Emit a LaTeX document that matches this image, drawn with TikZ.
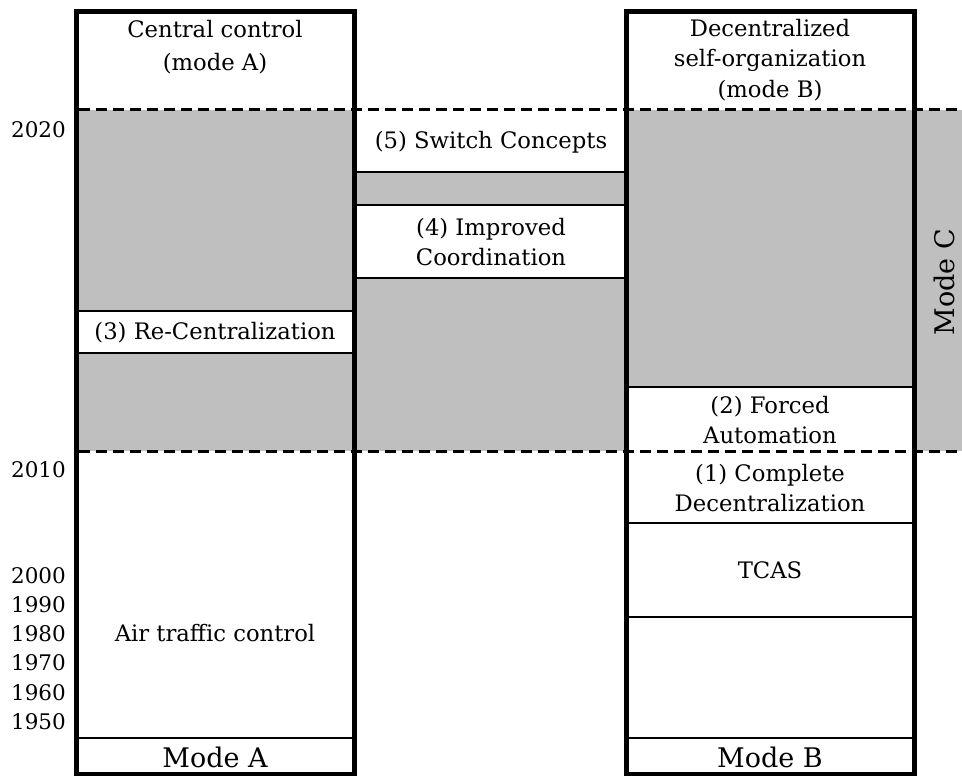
\documentclass[tikz,border=0pt]{standalone}
\usepackage{fontspec}
\setmainfont{DejaVu Serif}
\begin{document}
\begin{tikzpicture}[x=1pt,y=-1pt,
  lbl/.style={align=center,inner sep=0pt,font=\fontsize{22.7}{30.5}\selectfont},
  big/.style={inner sep=0pt,font=\fontsize{27}{30}\selectfont},
  yr/.style={anchor=east,inner sep=0pt,font=\fontsize{21.5}{24}\selectfont},
  thin/.style={line width=2.5pt},
  thick/.style={line width=5pt},
  dashline/.style={line width=3pt,dash pattern=on 11pt off 6pt},
  greyfill/.style={fill=black!25}]
\useasboundingbox (0,0) rectangle (962,776);
% grey band
\fill[greyfill] (76,110) rectangle (962,451);
% white boxes
\fill[white] (354,110) rectangle (627,172);
\fill[white] (354,205) rectangle (627,278);
\fill[white] (76,311) rectangle (355,353);
\fill[white] (627,387) rectangle (914,451);
% thin lines
\draw[thin] (354,172) -- (627,172);
\draw[thin] (354,205) -- (627,205);
\draw[thin] (354,278) -- (627,278);
\draw[thin] (76,311) -- (355,311);
\draw[thin] (76,353) -- (355,353);
\draw[thin] (627,387) -- (914,387);
\draw[thin] (627,523) -- (914,523);
\draw[thin] (627,617) -- (914,617);
\draw[thin] (627,738) -- (914,738);
\draw[thin] (76,738) -- (355,738);
% dashed lines
\draw[dashline] (79,110) -- (962,110);
\draw[dashline] (79,451) -- (962,451);
% columns
\draw[thick] (76.5,12) rectangle (354,774.5);
\draw[thick] (626.5,12) rectangle (914,774.5);
% texts
\node[lbl] (hA) at (215,47) {Central control\\[3pt](mode A)};
\node[lbl] (hB) at (770,60) {Decentralized\\self-organization\\(mode B)};
\node[lbl] (s5) at (491,142) {(5) Switch Concepts};
\node[lbl] (s4) at (491,242) {(4) Improved\\Coordination};
\node[lbl] (s3) at (215,333) {(3) Re-Centralization};
\node[lbl] (s2) at (770,420) {(2) Forced\\Automation};
\node[lbl] (s1) at (770,488) {(1) Complete\\Decentralization};
\node[lbl] (tcas) at (770,570) {TCAS};
\node[lbl] (atc) at (215,633) {Air traffic control};
\node[big] (mA) at (215,757) {Mode A};
\node[big] (mB) at (770,757) {Mode B};
\node[big,rotate=90] (mC) at (944,282) {Mode C};
\node[yr] (y2020) at (66,130) {2020};
\node[yr] (y2010) at (66,470) {2010};
\node[yr] (y2000) at (66,576) {2000};
\node[yr] (y1990) at (66,605) {1990};
\node[yr] (y1980) at (66,634) {1980};
\node[yr] (y1970) at (66,663) {1970};
\node[yr] (y1960) at (66,693) {1960};
\node[yr] (y1950) at (66,722) {1950};
\end{tikzpicture}
\end{document}
